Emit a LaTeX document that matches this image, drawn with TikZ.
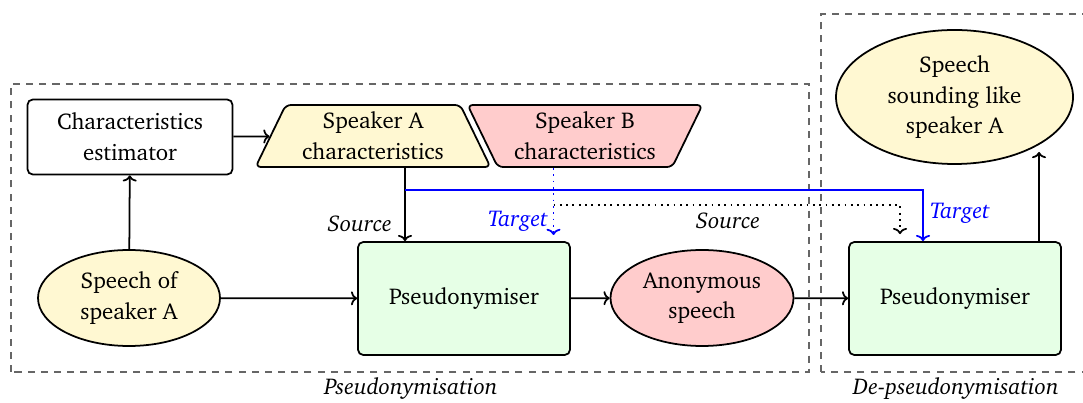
\documentclass[tikz,border=0pt]{standalone}
\usepackage[T1]{fontenc}
\usepackage{charter}
\usepackage{tikz}
\usetikzlibrary{shapes.geometric,arrows.meta}

\definecolor{lightyellow}{HTML}{FFF8D2}
\definecolor{lightred}{HTML}{FFCCCC}
\definecolor{lightgreen}{HTML}{E6FFE6}

\tikzset{
  >={To[length=3.5pt,width=8pt]},
  blocktext/.style={font=\fontsize{13}{17.5}\selectfont, align=center},
  procbox/.style={blocktext, draw=black, line width=1pt, rounded corners=3pt, fill=lightgreen,
    minimum width=4.24cm, minimum height=2.26cm},
  estbox/.style={blocktext, draw=black, line width=1pt, rounded corners=3pt, fill=white,
    minimum width=4.1cm, minimum height=1.5cm},
  charbox/.style={blocktext, draw=black, line width=1pt, rounded corners=3pt, trapezium,
    trapezium stretches=true, trapezium left angle=63, trapezium right angle=63,
    minimum width=4.7cm, minimum height=1.24cm, inner sep=0pt},
  sigblob/.style={blocktext, draw=black, line width=1pt, ellipse, inner sep=0pt},
  arr/.style={->, line width=1pt},
  dotarr/.style={->, line width=1pt, dash pattern=on 1pt off 2.6pt},
  stagebox/.style={draw=black!60, line width=0.9pt, dash pattern=on 4pt off 3.5pt},
  arrlabel/.style={font=\fontsize{13}{17.5}\selectfont\itshape},
}

\begin{document}
\begin{tikzpicture}

\useasboundingbox (0,0) rectangle (21.66,8.06);

% stages
\draw[stagebox] (0.22,0.62) rectangle (16.18,6.38);
\draw[stagebox] (16.42,0.62) rectangle (21.82,7.78);
\node[arrlabel] (stageP) at (8.22,0.30) {Pseudonymisation};
\node[arrlabel] (stageD) at (19.12,0.30) {De-pseudonymisation};

% blocks
\node[estbox] (est) at (2.60,5.32) {Characteristics\\estimator};
\node[charbox, fill=lightyellow] (spkA) at (7.46,5.34) {Speaker A\\characteristics};
\node[charbox, fill=lightred, shape border rotate=180] (spkB) at (11.70,5.34) {Speaker B\\characteristics};

\node[sigblob, fill=lightyellow, minimum width=3.64cm, minimum height=1.92cm] (speechA) at (2.58,2.10) {Speech of\\speaker A};
\node[procbox] (pse1) at (9.28,2.09) {Pseudonymiser};
\node[sigblob, fill=lightred, minimum width=3.66cm, minimum height=1.92cm] (anon) at (14.04,2.10) {Anonymous\\speech};
\node[procbox] (pse2) at (19.10,2.09) {Pseudonymiser};
\node[sigblob, fill=lightyellow, minimum width=4.74cm, minimum height=2.68cm] (sound) at (19.09,6.12) {Speech\\sounding like\\speaker A};

\coordinate (srcA) at (8.10,4.72);
\coordinate (tgtB) at (11.07,4.70);
\coordinate (soundIn) at (20.78,5.02);

% main chain
\draw[arr] (speechA) -- (pse1);
\draw[arr] (pse1) -- (anon);
\draw[arr] (anon) -- (pse2);
\draw[arr] (speechA) -- (est);
\draw[arr] (est) -- (spkA);
\draw[arr] ([xshift=1.68cm]pse2.north) -- (soundIn);

% characteristics
\draw[arr] (srcA) -- (srcA |- pse1.north);
\draw[arr, blue] (srcA |- 0,4.26) -| ([xshift=-0.64cm]pse2.north);
\draw[dotarr, blue] (tgtB) -- (tgtB |- 0,3.36);
\draw[dotarr] (tgtB |- 0,3.96) -| ([xshift=-1.1cm,yshift=0.14cm]pse2.north);

\node[arrlabel, anchor=east] (srcLbl) at (7.96,3.58) {Source};
\node[arrlabel, blue] (tgtLbl) at (10.36,3.64) {Target};
\node[arrlabel] (srcLbl2) at (14.56,3.64) {Source};
\node[arrlabel, blue] (tgtLbl2) at (19.20,3.80) {Target};

\end{tikzpicture}
\end{document}
